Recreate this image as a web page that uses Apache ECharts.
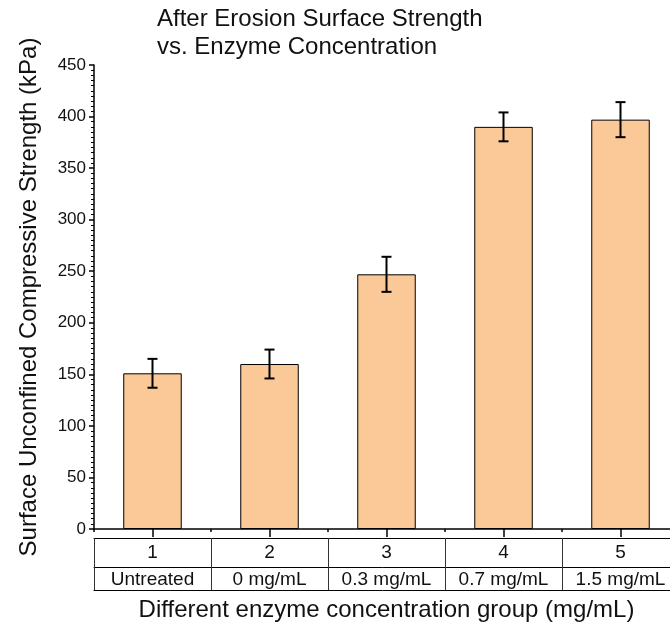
<!DOCTYPE html>
<html>
<head>
<meta charset="utf-8">
<style>
  html, body { margin: 0; padding: 0; background: #fff; }
  #chart { width: 670px; height: 622px; }
</style>
<script src="https://cdn.jsdelivr.net/npm/echarts@6/dist/echarts.min.js"></script>
</head>
<body>
<div id="chart"></div>
<script>
// Group numbers and treatment labels shown in the two-row table under the axis
const groupNumbers = ['1', '2', '3', '4', '5'];
const treatments = ['Untreated', '0 mg/mL', '0.3 mg/mL', '0.7 mg/mL', '1.5 mg/mL'];
// Mean surface unconfined compressive strength (kPa) and its error (±)
const strength = [151, 160, 247, 390, 397];
const strengthErr = [14, 14, 17, 14, 17];

const FONT = 'Liberation Sans, Arial, sans-serif';
const chart = echarts.init(document.getElementById('chart'), null, { renderer: 'canvas' });

const errData = strength.map((v, i) => [i, v, strengthErr[i]]);

function tableAxis(offset, extra) {
  return Object.assign({
    type: 'category',
    data: groupNumbers,
    position: 'bottom',
    offset: offset,
    gridIndex: 0,
    axisLine: { show: true, lineStyle: { color: '#000', width: 1 } },
    axisTick: { show: false },
    axisLabel: { show: false },
    splitLine: { show: false }
  }, extra);
}

chart.setOption({
  animation: false,
  textStyle: { fontFamily: FONT },
  title: {
    text: 'After Erosion Surface Strength\nvs. Enzyme Concentration',
    left: 157,
    top: 5,
    padding: 0,
    textStyle: { fontFamily: FONT, fontSize: 24, fontWeight: 'normal', color: '#111', lineHeight: 28 }
  },
  // plot area runs past the right edge so the last group is clipped like a wide table
  grid: { left: 94, top: 65, right: -9, height: 464, containLabel: false, outerBoundsMode: 'none' },
  xAxis: [
    // main axis: ticks at group centres
    {
      type: 'category',
      data: groupNumbers,
      position: 'bottom',
      axisLine: { show: true, lineStyle: { color: '#000', width: 1.5 } },
      axisTick: { show: true, alignWithLabel: true, length: 8, lineStyle: { color: '#000', width: 1.5 } },
      axisLabel: { show: false },
      splitLine: { show: false }
    },
    // short ticks at group boundaries
    tableAxis(0, {
      axisLine: { show: false },
      axisTick: { show: true, length: 3, lineStyle: { color: '#000', width: 1.5 } }
    }),
    // table row 1: group numbers, column dividers
    tableAxis(9, {
      axisTick: { show: true, length: 52, lineStyle: { color: '#333', width: 1 } },
      axisLabel: { show: true, margin: 5, fontSize: 19, color: '#111', fontFamily: FONT }
    }),
    // table row 2: treatments
    tableAxis(38, {
      data: treatments,
      axisLabel: { show: true, margin: 3, fontSize: 19, color: '#111', fontFamily: FONT, interval: 0 }
    }),
    // bottom border of the table and axis title
    tableAxis(61, {
      name: 'Different enzyme concentration group (mg/mL)',
      nameLocation: 'middle',
      nameGap: 8,
      nameTextStyle: { fontSize: 24, color: '#111', fontFamily: FONT, verticalAlign: 'top' }
    })
  ],
  yAxis: {
    type: 'value',
    min: 0,
    max: 450,
    interval: 50,
    name: 'Surface Unconfined Compressive Strength (kPa)',
    nameLocation: 'middle',
    nameGap: 53,
    nameTextStyle: { fontSize: 24, color: '#111', fontFamily: FONT },
    axisLine: { show: true, lineStyle: { color: '#000', width: 1.5 } },
    axisTick: { show: true, length: 5, lineStyle: { color: '#000', width: 1.5 } },
    minorTick: { show: true, splitNumber: 10, length: 3, lineStyle: { color: '#000', width: 1 } },
    axisLabel: { fontSize: 17, color: '#111', margin: 8, fontFamily: FONT },
    splitLine: { show: false }
  },
  series: [
    {
      type: 'bar',
      xAxisIndex: 0,
      data: strength,
      barWidth: '50%',
      itemStyle: { color: '#FBC897', borderColor: '#000', borderWidth: 1 }
    },
    {
      type: 'custom',
      xAxisIndex: 0,
      data: errData,
      z: 10,
      renderItem: function (params, api) {
        const idx = api.value(0);
        const mean = api.value(1);
        const err = api.value(2);
        const hi = api.coord([idx, mean + err]);
        const lo = api.coord([idx, mean - err]);
        const cap = 5;
        const style = { stroke: '#000', lineWidth: 2, fill: null };
        return {
          type: 'group',
          children: [
            { type: 'line', shape: { x1: hi[0], y1: hi[1], x2: lo[0], y2: lo[1] }, style: style },
            { type: 'line', shape: { x1: hi[0] - cap, y1: hi[1], x2: hi[0] + cap, y2: hi[1] }, style: style },
            { type: 'line', shape: { x1: lo[0] - cap, y1: lo[1], x2: lo[0] + cap, y2: lo[1] }, style: style }
          ]
        };
      }
    }
  ]
});
</script>
</body>
</html>
